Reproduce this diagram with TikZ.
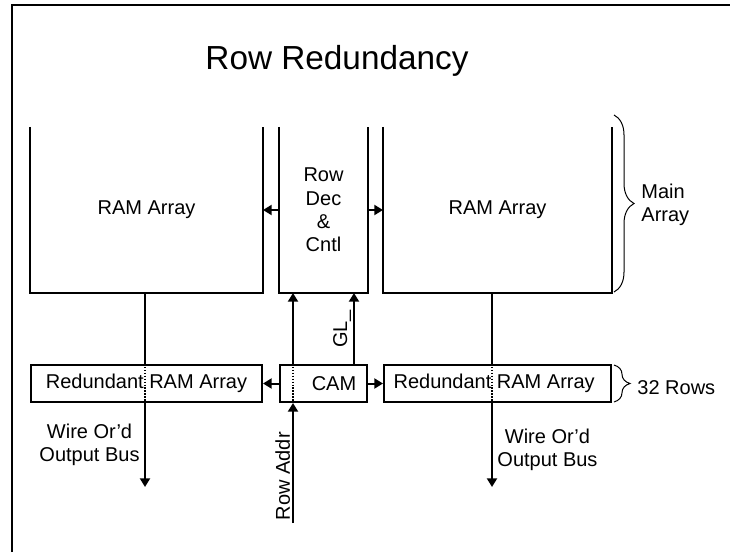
\documentclass[tikz,border=0pt]{standalone}
\usepackage{fontspec}
\setmainfont{Liberation Sans}
\usepackage{tikz}
\usetikzlibrary{arrows.meta, decorations.pathreplacing}

\begin{document}
\begin{tikzpicture}[x=0.75pt, y=-0.75pt, line width=1.5pt,
    font=\fontsize{15}{17.5}\selectfont,
    arr/.style={-{Triangle[length=6.5pt, width=7.5pt]}},
    col/.style={minimum height=123pt, inner sep=0pt},
    box/.style={draw, minimum height=27.75pt, inner sep=0pt},
    dots/.style={line width=0.9pt, dash pattern=on 1pt off 1.2pt},
    brc/.style={line width=0.75pt, decorate}]

    \useasboundingbox (0,0) rectangle (730,552);

    % frame
    \draw (12,552) -- (12,5) -- (730,5);

    \node[anchor=base] (title) at (337,70) {\fontsize{25}{30}\selectfont Row Redundancy};

    % main arrays and decoder
    \node[col, minimum width=173.25pt] (ramL) at (146.5,210) {RAM Array};
    \draw (ramL.north west) |- (ramL.south east) -- (ramL.north east);

    \node[col, minimum width=65.25pt, align=center] (dec) at (323.5,210) {Row\\Dec\\\&\\Cntl};
    \draw (dec.north west) |- (dec.south east) -- (dec.north east);

    \node[col, minimum width=170.25pt] (ramR) at (497.5,210) {RAM Array};
    \draw (ramR.north west) |- (ramR.south east) -- (ramR.north east);

    \draw[arr] (dec.west) -- (ramL.east);
    \draw[arr] (dec.east) -- (ramR.west);

    % redundant rows
    \node[box, minimum width=173.25pt] (redL) at (146.5,383.5) {Redundant RAM Array};
    \node[box, minimum width=65.25pt] (cam) at (323.5,383.5) {};
    \node (camtxt) at (334,383.5) {CAM};
    \node[box, minimum width=170.25pt] (redR) at (497.5,383.5) {\hspace*{-5pt}Redundant RAM Array};

    \draw[arr] (cam.west) -- (redL.east);
    \draw[arr] (cam.east) -- (redR.west);

    % output buses
    \coordinate (outL) at (145,487);
    \coordinate (outR) at (492,487);
    \draw (ramL.south -| outL) -- (redL.north -| outL);
    \draw[dots] (redL.north -| outL) -- (redL.south -| outL);
    \draw[arr] (redL.south -| outL) -- node[left, align=center] {Wire Or’d\\Output Bus} (outL);
    \draw (ramR.south -| outR) -- (redR.north -| outR);
    \draw[dots] (redR.north -| outR) -- (redR.south -| outR);
    \draw[arr] (redR.south -| outR) -- node[right, align=center, pos=0.56] {Wire Or’d\\Output Bus} (outR);

    % address and GL_
    \coordinate (addr) at (293,523);
    \coordinate (gl) at (354,365);
    \draw[dots] (cam.north -| addr) -- (cam.south -| addr);
    \draw[arr] (cam.north -| addr) -- (dec.south -| addr);
    \draw[arr] (gl) -- node[rotate=90, above, inner sep=1.5pt] {GL\_} (dec.south -| gl);
    \draw[arr] (addr) -- node[rotate=90, above, pos=0.39, inner sep=1.5pt] {Row Addr} (cam.south -| addr);

    % braces
    \draw[brc, decoration={brace, amplitude=15pt}] (614,115) -- (614,292);
    \node[anchor=west, align=left] (mainlbl) at (636,205) {Main\\Array};
    \draw[brc, decoration={brace, amplitude=12pt}] (614,365) -- (614,402);
    \node[anchor=west] (rowslbl) at (632,388) {32 Rows};

\end{tikzpicture}
\end{document}
